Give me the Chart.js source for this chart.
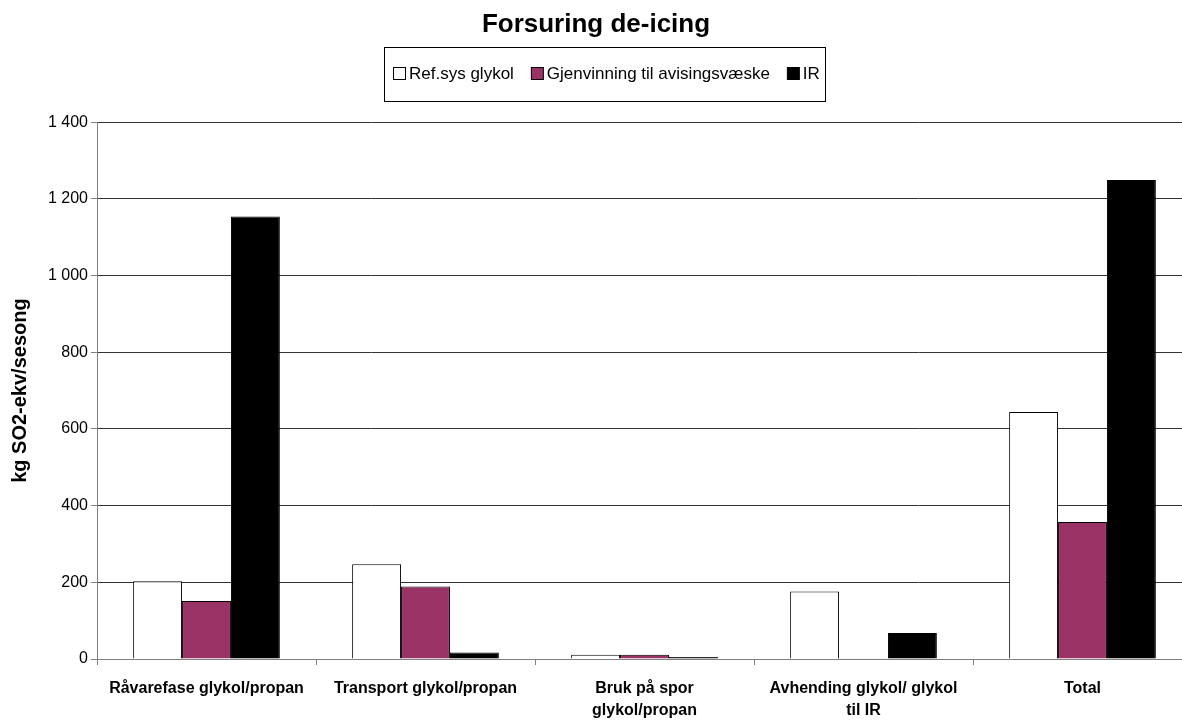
<!DOCTYPE html>
<html>
<head>
<meta charset="utf-8">
<title>Forsuring de-icing</title>
<script src="https://cdn.jsdelivr.net/npm/chart.js@4/dist/chart.umd.min.js"></script>
<style>
  html, body { margin: 0; padding: 0; background: #fff; overflow: hidden; }
  #wrap { width: 1182px; height: 720px; overflow: hidden; position: relative; }
  #box { width: 1200px; height: 735px; position: absolute; left: 0; top: 0; }
</style>
</head>
<body>
<div id="wrap"><div id="box"><canvas id="chart" width="1200" height="735"></canvas></div></div>
<script>
// Categories (multi-line labels as arrays)
const categories = [
  'Råvarefase glykol/propan',
  'Transport glykol/propan',
  ['Bruk på spor', 'glykol/propan'],
  ['Avhending glykol/ glykol', 'til IR'],
  'Total'
];

// Series values, kg SO2-ekv per season
const refSysGlykol = [203, 247, 11, 176, 644];
const gjenvinning  = [151, 189, 11, 2, 357];
const irValues     = [1154, 17, 5, 68, 1249];

const seriesNames = ['Ref.sys glykol', 'Gjenvinning til avisingsvæske', 'IR'];

// Y axis range and step
const yMin = 0;
const yMax = 1400;
const yStep = 200;

const FONT = "'Liberation Sans', Arial, sans-serif";
Chart.defaults.color = '#000';
Chart.defaults.font.family = FONT;

function spaced(v) {
  return String(v).replace(/\B(?=(\d{3})+(?!\d))/g, ' ');
}

// Boxed legend drawn above the plot area
const boxedLegend = {
  id: 'boxedLegend',
  afterDraw(chart) {
    const ctx = chart.ctx;
    const ds = chart.data.datasets;
    ctx.save();
    ctx.font = '17px ' + FONT;
    const sq = 12, gapText = 4, gapItem = 17, padL = 9, padR = 5;
    const widths = ds.map(d => ctx.measureText(d.label).width);
    let total = padL + padR;
    widths.forEach((w, i) => { total += sq + gapText + w + (i < widths.length - 1 ? gapItem : 0); });
    const cx = 604, top = 47, bottom = 101, cy = 73;
    const left = Math.round(cx - total / 2);
    ctx.strokeStyle = '#000';
    ctx.lineWidth = 1;
    ctx.strokeRect(left + 0.5, top + 0.5, Math.round(total), bottom - top);
    let x = left + padL;
    ds.forEach((d, i) => {
      ctx.fillStyle = d.backgroundColor;
      ctx.fillRect(x + 0.5, cy - sq / 2 + 0.5, sq, sq);
      ctx.strokeStyle = '#000';
      ctx.strokeRect(x + 0.5, cy - sq / 2 + 0.5, sq, sq);
      ctx.fillStyle = '#000';
      ctx.textBaseline = 'middle';
      ctx.textAlign = 'left';
      ctx.fillText(d.label, x + sq + gapText, cy + 1);
      x += sq + gapText + widths[i] + gapItem;
    });
    ctx.restore();
  }
};

new Chart(document.getElementById('chart'), {
  type: 'bar',
  data: {
    labels: categories,
    datasets: [
      { label: seriesNames[0], data: refSysGlykol, backgroundColor: '#ffffff', borderColor: '#000', borderWidth: 1 },
      { label: seriesNames[1], data: gjenvinning,  backgroundColor: '#993366', borderColor: '#000', borderWidth: 1 },
      { label: seriesNames[2], data: irValues,     backgroundColor: '#000000', borderColor: '#000', borderWidth: 1 }
    ]
  },
  options: {
    responsive: false,
    animation: false,
    layout: { padding: { left: 0, right: 8, top: 0, bottom: 0 } },
    datasets: { bar: { categoryPercentage: 0.67, barPercentage: 1.0 } },
    plugins: {
      legend: { display: false },
      tooltip: { enabled: false },
      title: {
        display: true,
        text: 'Forsuring de-icing',
        color: '#000',
        font: { family: FONT, size: 26, weight: 'bold' },
        padding: { top: 9, bottom: 82 }
      }
    },
    scales: {
      x: {
        offset: true,
        grid: { display: true, drawOnChartArea: false, drawTicks: true, tickLength: 6, color: '#808080', offset: true },
        border: { display: true, color: '#808080', width: 1 },
        ticks: {
          color: '#000',
          font: { family: FONT, size: 16, weight: 'bold', lineHeight: 1.375 },
          padding: 13,
          maxRotation: 0,
          autoSkip: false
        }
      },
      y: {
        min: yMin,
        max: yMax,
        afterFit(scale) { scale.width = 97; },
        grid: { color: '#333', lineWidth: 1, drawTicks: true, tickLength: 6, tickColor: '#808080' },
        border: { display: true, color: '#808080', width: 1 },
        ticks: {
          stepSize: yStep,
          color: '#000',
          padding: 3,
          font: { family: FONT, size: 16 },
          callback: v => spaced(v)
        },
        title: {
          display: true,
          text: 'kg SO2-ekv/sesong',
          color: '#000',
          font: { family: FONT, size: 20, weight: 'bold' },
          padding: { top: 8, bottom: 0 }
        }
      }
    }
  },
  plugins: [boxedLegend]
});
</script>
</body>
</html>
